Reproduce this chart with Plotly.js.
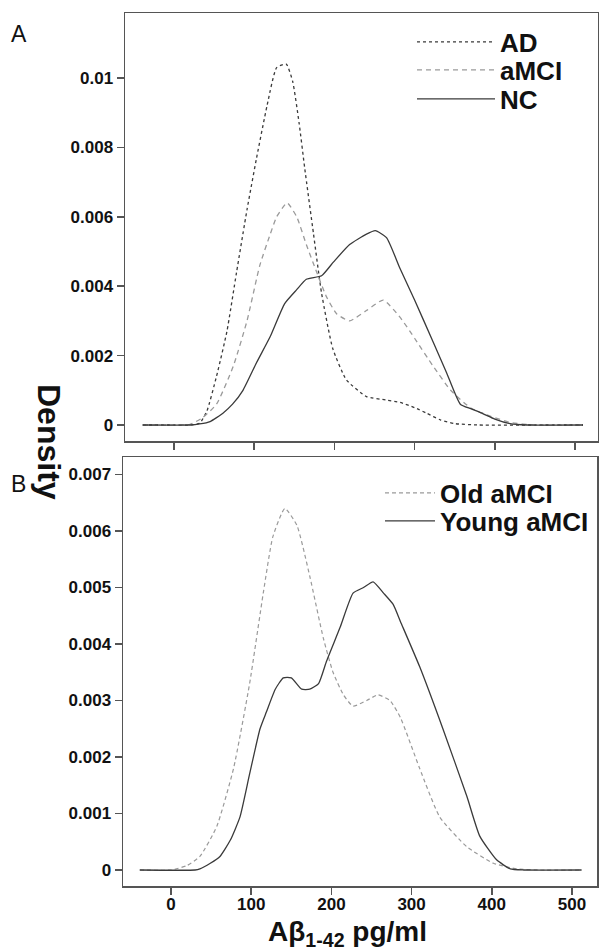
<!DOCTYPE html>
<html>
<head>
<meta charset="utf-8">
<script src="https://cdn.plot.ly/plotly-3.0.1.min.js"></script>
<style>html,body{margin:0;padding:0;background:#fff;}#chart{width:599px;height:952px;}</style>
</head>
<body>
<div id="chart"></div>
<script>
// Panel A
const adX   = [-39, 0, 20, 32, 41, 53, 66, 78, 91, 103, 116, 128, 140, 148, 156, 163, 174, 184, 198, 215, 240, 265, 282, 300, 315, 332, 350, 380, 450, 510];
const adY   = [0, 0, 0, 0.00005, 0.0004, 0.0014, 0.0027, 0.0044, 0.0062, 0.0077, 0.0092, 0.0103, 0.0104, 0.0099, 0.0087, 0.0074, 0.0055, 0.0038, 0.0022, 0.0013, 0.00082, 0.00072, 0.00065, 0.0005, 0.00034, 0.00015, 0.00004, 0, 0, 0];
const amciX = [-39, 0, 20, 35, 53, 74, 91, 107, 120, 128, 141, 153, 165, 178, 190, 203, 219, 240, 261, 282, 300, 323, 345, 370, 395, 420, 450, 510];
const amciY = [0, 0, 0.00002, 0.0002, 0.0006, 0.0017, 0.003, 0.0046, 0.0055, 0.006, 0.0064, 0.006, 0.0052, 0.0044, 0.0037, 0.0032, 0.003, 0.0033, 0.0036, 0.0031, 0.0025, 0.0017, 0.001, 0.00049, 0.00025, 0.00007, 0, 0];
const ncX   = [-39, 20, 32, 45, 61, 73, 86, 103, 120, 138, 153, 165, 184, 199, 219, 240, 251, 265, 282, 300, 323, 340, 357, 370, 385, 400, 419, 440, 510];
const ncY   = [0, 0, 0.00003, 0.0001, 0.00034, 0.0006, 0.001, 0.0018, 0.00255, 0.0035, 0.0039, 0.0042, 0.0043, 0.0047, 0.0052, 0.0055, 0.0056, 0.0054, 0.0045, 0.0036, 0.0024, 0.0015, 0.0006, 0.00047, 0.00033, 0.00017, 0.00004, 0, 0];
// Panel B
const oldX  = [-39, 0, 20, 36, 57, 78, 98, 115, 127, 142, 157, 173, 190, 202, 215, 227, 244, 258, 273, 286, 310, 335, 369, 402, 431, 460, 512];
const oldY  = [0, 0, 0.00008, 0.00024, 0.00077, 0.0018, 0.0033, 0.0049, 0.0059, 0.0064, 0.0061, 0.0052, 0.0041, 0.0035, 0.0031, 0.0029, 0.003, 0.0031, 0.003, 0.0027, 0.0018, 0.00094, 0.00041, 0.00012, 0.00002, 0, 0];
const youngX = [-39, 30, 36, 49, 61, 74, 86, 98, 111, 119, 130, 140, 150, 163, 173, 184, 194, 211, 227, 240, 252, 265, 277, 286, 310, 339, 369, 385, 406, 423, 440, 512];
const youngY = [0, 0, 0.00002, 0.00012, 0.00024, 0.00053, 0.00094, 0.0017, 0.0025, 0.0028, 0.0032, 0.0034, 0.0034, 0.0032, 0.0032, 0.0033, 0.0037, 0.0043, 0.0049, 0.005, 0.0051, 0.0049, 0.0047, 0.0044, 0.0036, 0.0025, 0.0013, 0.0006, 0.00018, 0.00002, 0, 0];

const xTicks = [0, 100, 200, 300, 400, 500];
const xTickText = ['0', '100', '200', '300', '400', '500'];
const yTicksA = [0, 0.002, 0.004, 0.006, 0.008, 0.01];
const yTickTextA = ['0', '0.002', '0.004', '0.006', '0.008', '0.01'];
const yTicksB = [0, 0.001, 0.002, 0.003, 0.004, 0.005, 0.006, 0.007];
const yTickTextB = ['0', '0.001', '0.002', '0.003', '0.004', '0.005', '0.006', '0.007'];

const FONT = 'Liberation Sans, Arial, Helvetica, sans-serif';
const W = 599, H = 952;
const dark = '#3a3a3a', light = '#9a9a9a';

const traces = [
  {x: adX, y: adY, name: 'AD', type: 'scatter', mode: 'lines', xaxis: 'x', yaxis: 'y', legend: 'legend',
   line: {color: dark, width: 1.3, dash: 'dot', shape: 'spline', smoothing: 0.5}},
  {x: amciX, y: amciY, name: 'aMCI', type: 'scatter', mode: 'lines', xaxis: 'x', yaxis: 'y', legend: 'legend2',
   line: {color: light, width: 1.3, dash: '5px,4px', shape: 'spline', smoothing: 0.5}},
  {x: ncX, y: ncY, name: 'NC', type: 'scatter', mode: 'lines', xaxis: 'x', yaxis: 'y', legend: 'legend3',
   line: {color: dark, width: 1.3, shape: 'spline', smoothing: 0.5}},
  {x: oldX, y: oldY, name: 'Old aMCI', type: 'scatter', mode: 'lines', xaxis: 'x2', yaxis: 'y2', legend: 'legend4',
   line: {color: light, width: 1.2, dash: '4px,3px', shape: 'spline', smoothing: 0.5}},
  {x: youngX, y: youngY, name: 'Young aMCI', type: 'scatter', mode: 'lines', xaxis: 'x2', yaxis: 'y2', legend: 'legend5',
   line: {color: dark, width: 1.3, shape: 'spline', smoothing: 0.5}}
];

const axisCommon = {
  showline: true, mirror: true, linecolor: '#555', linewidth: 1.5,
  ticks: 'outside', ticklen: 7, tickwidth: 1.5, tickcolor: '#555',
  showgrid: false, zeroline: false,
  tickfont: {family: FONT, size: 17, weight: 'bold', color: '#111'}
};

function legendAt(xpx, ypx, size, itemw) {
  return {
    x: xpx / W, xanchor: 'left', y: 1 - ypx / H, yanchor: 'middle',
    bgcolor: 'rgba(0,0,0,0)', borderwidth: 0, itemwidth: itemw,
    font: {family: FONT, size: size, weight: 'bold', color: '#111'}
  };
}

const layout = {
  width: W, height: H,
  margin: {l: 0, r: 0, t: 0, b: 0},
  paper_bgcolor: '#fff', plot_bgcolor: '#fff',
  font: {family: FONT, color: '#111'},
  xaxis: Object.assign({}, axisCommon, {
    domain: [125 / W, 598 / W], range: [-61.1, 528.7], anchor: 'y',
    tickvals: xTicks, showticklabels: false
  }),
  yaxis: Object.assign({}, axisCommon, {
    domain: [1 - 441 / H, 1 - 13 / H], range: [-0.000461, 0.011873], anchor: 'x',
    tickvals: yTicksA, ticktext: yTickTextA
  }),
  xaxis2: Object.assign({}, axisCommon, {
    domain: [123 / W, 597 / W], range: [-59.9, 531.2], anchor: 'y2',
    tickvals: xTicks, ticktext: xTickText, ticklabelstandoff: -5
  }),
  yaxis2: Object.assign({}, axisCommon, {
    domain: [1 - 886 / H, 1 - 457 / H], range: [-0.000283, 0.00731], anchor: 'x2',
    tickvals: yTicksB, ticktext: yTickTextB
  }),
  showlegend: true,
  legend:  legendAt(412, 42, 26, 78),
  legend2: legendAt(412, 70, 26, 78),
  legend3: legendAt(412, 99, 26, 78),
  legend4: legendAt(380, 493, 26, 50),
  legend5: legendAt(380, 521, 26, 50),
  annotations: [
    {text: 'A', xref: 'paper', yref: 'paper', x: 19 / W, y: 1 - 34 / H, xanchor: 'center', yanchor: 'middle',
     showarrow: false, font: {family: FONT, size: 23, color: '#111'}},
    {text: 'B', xref: 'paper', yref: 'paper', x: 18 / W, y: 1 - 484 / H, xanchor: 'center', yanchor: 'middle',
     showarrow: false, font: {family: FONT, size: 23, color: '#111'}},
    {text: 'Density', xref: 'paper', yref: 'paper', x: 49 / W, y: 1 - 442 / H, xanchor: 'center', yanchor: 'middle',
     showarrow: false, textangle: 90, font: {family: FONT, size: 32, weight: 'bold', color: '#111'}},
    {text: 'Aβ<sub>1-42</sub> pg/ml', xref: 'paper', yref: 'paper', x: 347 / W, y: 1 - 933 / H,
     xanchor: 'center', yanchor: 'middle', showarrow: false,
     font: {family: FONT, size: 28, weight: 'bold', color: '#111'}}
  ]
};

Plotly.newPlot('chart', traces, layout, {displayModeBar: false, staticPlot: true});
</script>
</body>
</html>
